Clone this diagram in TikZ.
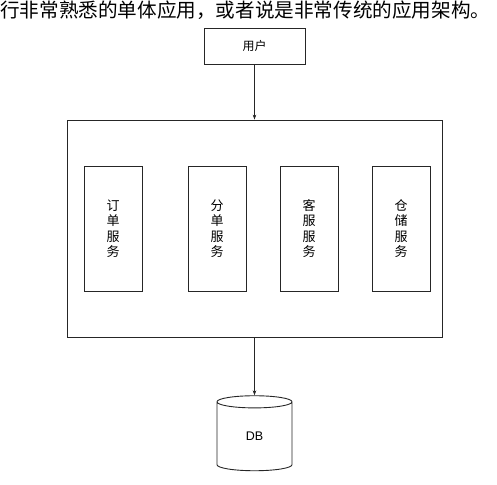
\documentclass[tikz,border=0pt]{standalone}
\usepackage{fontspec}
\setmainfont{Liberation Sans}
\newfontfamily\cjk{Noto Sans CJK SC}
\usetikzlibrary{shapes.geometric,arrows.meta}
\begin{document}
\begin{tikzpicture}[x=1pt,y=-1pt]
        \tikzstyle{box}=[rectangle,draw=black!85,line width=0.9pt,inner sep=0pt]
        \tikzstyle{service}=[box,minimum width=58pt,minimum height=125pt,align=center,font=\cjk\fontsize{13}{15.5}\selectfont]
        \tikzstyle{edge}=[draw,black!85,line width=0.6pt,-{Stealth[length=5pt,width=3.6pt]}]
        \useasboundingbox (0,0) rectangle (497,484);
        \node [anchor=west,inner sep=0pt,font=\cjk\fontsize{19.6}{20}\selectfont] (intro) at (0,10) {行非常熟悉的单体应用，或者说是非常传统的应用架构。};
        \node [box,minimum width=101pt,minimum height=36pt,font=\cjk\fontsize{12}{14}\selectfont] (user) at (254.5,46) {用户};
        \node [box,minimum width=375pt,minimum height=217pt] (app) at (254.5,228.5) {};
        \node [service] (order) at (113,228.5) {订\\单\\服\\务};
        \node [service] (split) at (217,228.5) {分\\单\\服\\务};
        \node [service] (support) at (309,228.5) {客\\服\\服\\务};
        \node [service] (stock) at (401,228.5) {仓\\储\\服\\务};
        \node [cylinder,shape border rotate=90,aspect=0.7,draw=black!85,line width=0.9pt,minimum width=75pt,minimum height=75pt,inner sep=0pt,font=\fontsize{12.5}{14}\selectfont] (db) at (254.5,436.5) {DB};
        \draw[edge] (user.south) -- (app.north);
        \draw[edge] (app.south) -- (db.north);
\end{tikzpicture}
\end{document}
